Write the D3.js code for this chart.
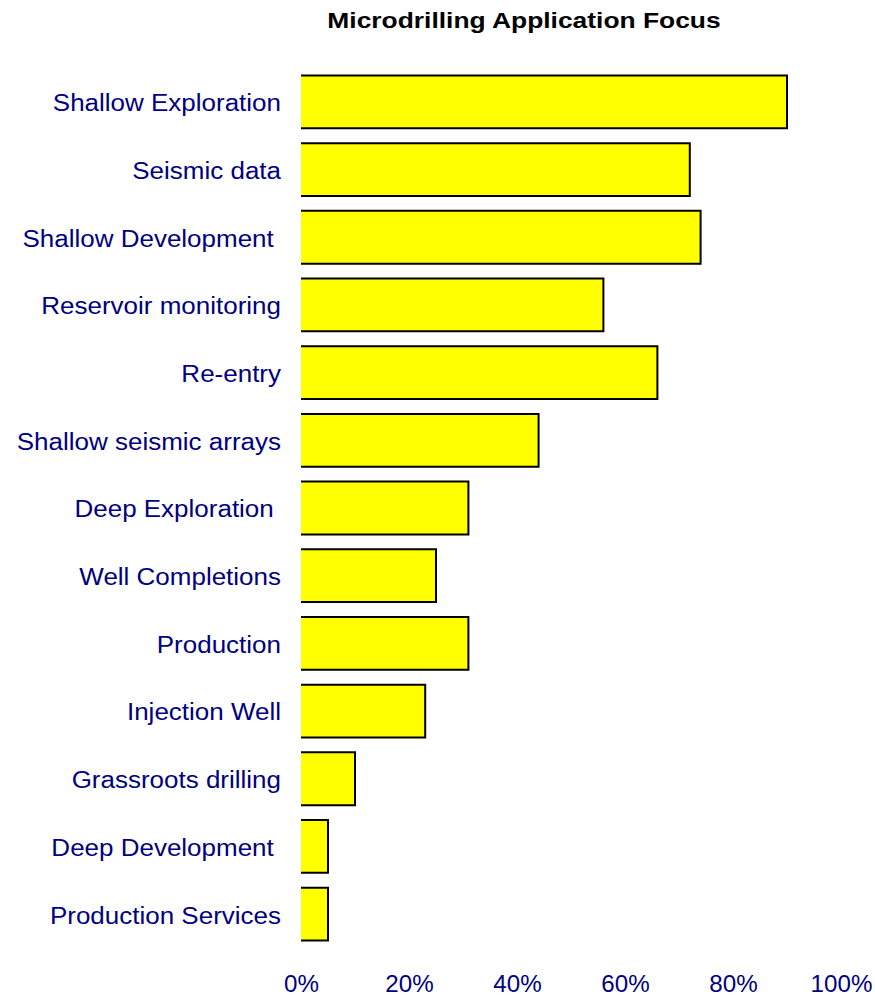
<!DOCTYPE html>
<html>
<head>
<meta charset="utf-8">
<script src="https://cdn.jsdelivr.net/npm/d3@7"></script>
<style>
  html, body { margin: 0; padding: 0; background: #fff; }
  svg { display: block; }
  text { white-space: pre; }
</style>
</head>
<body>
<svg id="chart" width="875" height="999"></svg>
<script>
// Application categories, top to bottom
const categories = [
  "Shallow Exploration",
  "Seismic data",
  "Shallow Development ",
  "Reservoir monitoring",
  "Re-entry",
  "Shallow seismic arrays",
  "Deep Exploration ",
  "Well Completions",
  "Production",
  "Injection Well",
  "Grassroots drilling",
  "Deep Development ",
  "Production Services"
];
// Share of respondents (%)
const values = [90, 72, 74, 56, 66, 44, 31, 25, 31, 23, 10, 5, 5];
// Axis tick values (%)
const ticks = [0, 20, 40, 60, 80, 100];

const FONT = "Liberation Sans, Arial, sans-serif";
const svg = d3.select("#chart");

const x = d3.scaleLinear().domain([0, 100]).range([301, 841]);
const y = d3.scaleBand()
  .domain(categories)
  .range([68, 948])
  .paddingInner(0.22)
  .paddingOuter(0.11);

// Title (wide bold face)
svg.append("text")
  .attr("transform", "translate(524,28) scale(1.2,1)")
  .attr("text-anchor", "middle")
  .attr("font-family", FONT)
  .attr("font-weight", "bold")
  .attr("font-size", 22)
  .attr("fill", "#000")
  .text("Microdrilling Application Focus");

// Bars: filled, outlined on top, right and bottom
const bars = svg.append("g");
categories.forEach((c, i) => {
  const x0 = x(0), x1 = x(values[i]);
  const y0 = y(c), y1 = y(c) + y.bandwidth();
  bars.append("rect")
    .attr("x", x0)
    .attr("y", y0)
    .attr("width", x1 - x0)
    .attr("height", y1 - y0)
    .attr("fill", "#ffff00");
  bars.append("path")
    .attr("d", `M${x0},${y0}H${x1}V${y1}H${x0}`)
    .attr("fill", "none")
    .attr("stroke", "#000")
    .attr("stroke-width", 2);
});

// Category labels
const yAxis = d3.axisLeft(y).tickSize(0).tickPadding(0);
const gy = svg.append("g").attr("transform", "translate(281,2)").call(yAxis);
gy.select(".domain").remove();
gy.selectAll("text")
  .attr("font-family", FONT)
  .attr("font-size", 23)
  .attr("fill", "#000080")
  .attr("transform", "scale(1.13,1)");

// Percentage axis
const xAxis = d3.axisBottom(x).tickValues(ticks).tickSize(0).tickPadding(0)
  .tickFormat(d => d + "%");
const gx = svg.append("g").attr("transform", "translate(0,976)").call(xAxis);
gx.select(".domain").remove();
gx.selectAll("text")
  .attr("font-family", FONT)
  .attr("font-size", 23)
  .attr("fill", "#000080")
  .attr("transform", "scale(1.05,1)");
</script>
</body>
</html>
